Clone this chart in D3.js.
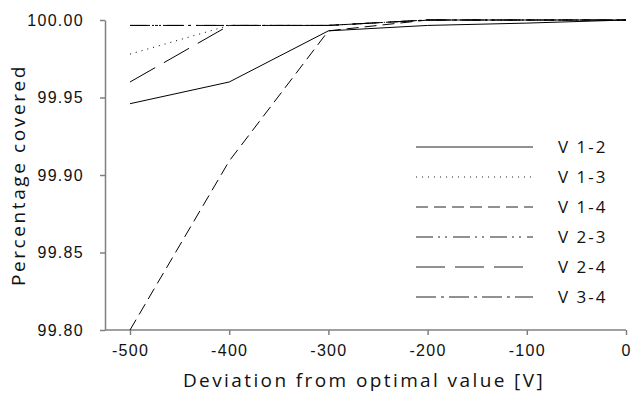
<!DOCTYPE html>
<meta charset="utf-8">
<html>
<head>
  <script src="https://d3js.org/d3.v7.min.js"></script>
  <style>
    body { margin: 0; background: #fff; }
  </style>
</head>
<body>
<div id="chart"></div>
<script>

var xValues = [-500, -400, -300, -200, -100, 0];
var xTicks = [-500, -400, -300, -200, -100, 0];
var yTicks = [99.80, 99.85, 99.90, 99.95, 100.00];

var seriesNames = ["V 1-2", "V 1-3", "V 1-4", "V 2-3", "V 2-4", "V 3-4"];
var v12 = [99.946, 99.960, 99.993, 99.9965, 99.998, 100];
var v13 = [99.978, 99.9965, 99.9965, 100, 100, 100];
var v14 = [99.800, 99.909, 99.993, 100, 100, 100];
var v23 = [99.9965, 99.9965, 99.9965, 100, 100, 100];
var v24 = [99.960, 99.9965, 99.9965, 100, 100, 100];
var v34 = [99.9965, 99.9965, 99.9965, 100, 100, 100];
var seriesValues = [v12, v13, v14, v23, v24, v34];

// dash style per series
var dashes = ["", "1,5", "12,6", "17,5,2,5,2,6", "29,10", "20,5,3,5"];

var W = 633, H = 394;
var margin = {top: 20, right: 7, bottom: 64, left: 130};

var svg = d3.select("#chart")
  .append("svg")
    .attr("width", W)
    .attr("height", H);

var x = d3.scaleLinear()
  .domain([-500, 0])
  .range([margin.left, W - margin.right]);

var y = d3.scaleLinear()
  .domain([99.80, 100.00])
  .range([H - margin.bottom, margin.top]);

var axisX = 105;

// y axis
var gy = svg.append("g")
  .attr("transform", "translate(" + axisX + ",0)")
  .call(d3.axisLeft(y).tickValues(yTicks).tickFormat(d3.format(".2f")).tickSize(5).tickSizeOuter(0));
gy.select(".domain").attr("stroke", "#808080").attr("stroke-width", 1.5);
gy.selectAll(".tick line").attr("stroke", "#808080").attr("stroke-width", 1.5);
gy.selectAll(".tick text")
  .attr("x", -21)
  .style("font-family", "Liberation Sans, Arial, sans-serif")
  .style("font-size", "16px")
  .style("letter-spacing", "1.3px")
  .attr("fill", "#111");

// x axis
var gx = svg.append("g")
  .attr("transform", "translate(0," + (H - margin.bottom) + ")")
  .call(d3.axisBottom(x).tickValues(xTicks).tickFormat(function(d) { return String(d); }).tickSize(5).tickSizeOuter(0));
gx.select(".domain").attr("stroke", "#808080").attr("stroke-width", 1.5)
  .attr("d", "M" + axisX + ",0H" + (W - margin.right));
gx.selectAll(".tick line").attr("stroke", "#808080").attr("stroke-width", 1.5);
gx.selectAll(".tick text")
  .attr("y", 15)
  .style("font-family", "Liberation Sans, Arial, sans-serif")
  .style("font-size", "16px")
  .style("letter-spacing", "1.3px")
  .attr("fill", "#111");

// lines
var line = d3.line()
  .x(function(d, i) { return x(xValues[i]); })
  .y(function(d) { return y(d); });

svg.selectAll("path.serie")
  .data(seriesValues)
  .enter()
  .append("path")
  .attr("class", "serie")
  .attr("d", line)
  .attr("fill", "none")
  .attr("stroke", "#000")
  .attr("stroke-width", 1)
  .attr("stroke-dasharray", function(d, i) { return dashes[i]; });

// legend
var leg = svg.selectAll("g.leg")
  .data(seriesNames)
  .enter()
  .append("g")
  .attr("class", "leg")
  .attr("transform", function(d, i) { return "translate(416," + (147 + i * 30) + ")"; });

leg.append("line")
  .attr("x1", 0).attr("x2", 117)
  .attr("y1", 0).attr("y2", 0)
  .attr("stroke", "#222")
  .attr("stroke-width", 1)
  .attr("stroke-dasharray", function(d, i) { return dashes[i]; });

leg.append("text")
  .attr("x", 142)
  .attr("y", 6)
  .style("font-family", "Open Sans, sans-serif")
  .style("font-size", "17px")
  .style("letter-spacing", "2px")
  .attr("fill", "#111")
  .text(function(d) { return d; });

// axis titles
svg.append("text")
  .attr("x", 364)
  .attr("y", 387)
  .attr("text-anchor", "middle")
  .style("font-family", "Open Sans, sans-serif")
  .style("font-size", "19px")
  .style("letter-spacing", "2.4px")
  .attr("fill", "#111")
  .text("Deviation from optimal value [V]");

svg.append("text")
  .attr("transform", "translate(25,175) rotate(-90)")
  .attr("text-anchor", "middle")
  .style("font-family", "Open Sans, sans-serif")
  .style("font-size", "19px")
  .style("letter-spacing", "2.6px")
  .attr("fill", "#111")
  .text("Percentage covered");

</script>
</body>
</html>
